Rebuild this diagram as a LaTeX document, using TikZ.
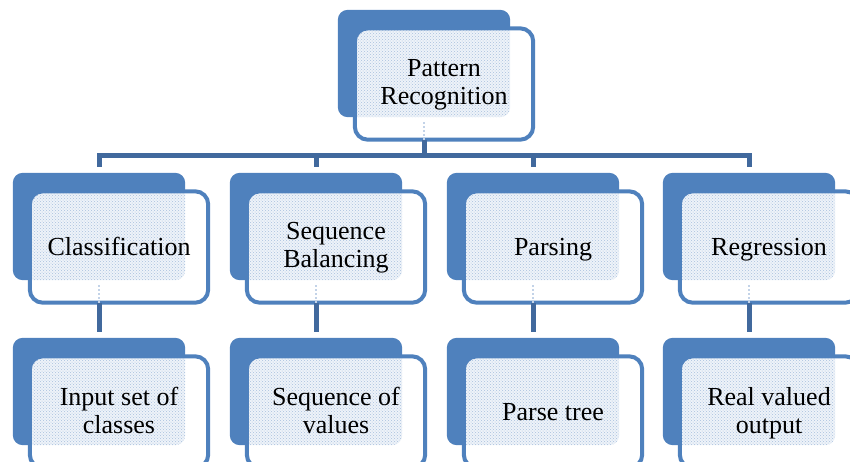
\documentclass[tikz,border=0pt]{standalone}
\usepackage{fontspec}
\setmainfont{Liberation Serif}
\newfontfamily\tnr{Liberation Serif}
\usetikzlibrary{patterns,backgrounds}
\definecolor{boxblue}{HTML}{4F81BD}
\definecolor{lineblue}{HTML}{41699D}
\definecolor{dotblue}{HTML}{A9C0DE}
\definecolor{tintblue}{HTML}{EEF3F9}
\tikzset{
  backshape/.style={rectangle, minimum width=172pt, minimum height=107pt, inner sep=0pt},
  frontshape/.style={rectangle, minimum width=178pt, minimum height=111pt, inner sep=0pt,
    align=center, font=\tnr\fontsize{26}{28}\selectfont,
    execute at begin node=\strut, execute at end node=\strut},
  conn/.style={draw=lineblue, line width=5pt},
}
% #1 x, #2 y of the back box top-left corner, #3 name, #4 text
\newcommand\pbox[4]{%
  \node[backshape] (#3b) at ({#1+86},{#2+53.5}) {};
  \node[frontshape] (#3) at ({#1+106},{#2+74}) {};
  \node[frontshape, draw=none] (#3t) at ([yshift=-2.5pt]#3.center) {#4};
  \begin{pgfonlayer}{background}
    \fill[boxblue, rounded corners=10pt] (#3b.south west) rectangle (#3b.north east);
    \fill[white, rounded corners=13pt] (#3.south west) rectangle (#3.north east);
    \begin{scope}
      \clip[rounded corners=11pt] ([shift={(2pt,2pt)}]#3.south west) rectangle ([shift={(-2pt,-2pt)}]#3.north east);
      \fill[tintblue, rounded corners=10pt] (#3b.south west) rectangle (#3b.north east);
      \fill[pattern=crosshatch dots, pattern color=dotblue, rounded corners=10pt] (#3b.south west) rectangle (#3b.north east);
    \end{scope}
    \draw[boxblue, line width=4pt, rounded corners=13pt] (#3.south west) rectangle (#3.north east);
  \end{pgfonlayer}%
}
\newcommand\pmark[1]{%
  \begin{pgfonlayer}{background}
    \draw[dotblue!70, dotted, line width=2pt] ([yshift=-5pt]#1b.south) -- (#1b.south |- #1.south);
  \end{pgfonlayer}%
}
\begin{document}
\begin{tikzpicture}[x=1pt, y=-1pt]
\useasboundingbox (0,0) rectangle (850,461);
% top
\pbox{338}{10}{pr}{Pattern\\Recognition}
\pmark{pr}
% second level
\pbox{13}{173}{cl}{Classification}
\pbox{230}{173}{sb}{Sequence\\Balancing}
\pbox{447}{173}{pa}{Parsing}
\pbox{663}{173}{re}{Regression}
\pmark{cl}\pmark{sb}\pmark{pa}\pmark{re}
% third level
\pbox{13}{338}{is}{Input set of\\classes}
\pbox{230}{338}{sv}{Sequence of\\values}
\pbox{447}{338}{pt}{Parse tree}
\pbox{663}{338}{rv}{Real valued\\output}
% connectors
\coordinate (busl) at (clb.north |- 0,155);
\coordinate (busr) at (reb.north |- 0,155);
\draw[conn] (prb.south |- pr.south) -- (prb.south |- busl);
\draw[conn] ([yshift=6pt]clb.north) -- (busl) -- (busr) -- ([yshift=6pt]reb.north);
\draw[conn] (sbb.north |- busl) -- ([yshift=6pt]sbb.north);
\draw[conn] (pab.north |- busl) -- ([yshift=6pt]pab.north);
\draw[conn] (clb.south |- cl.south) -- ([yshift=6pt]isb.north);
\draw[conn] (sbb.south |- sb.south) -- ([yshift=6pt]svb.north);
\draw[conn] (pab.south |- pa.south) -- ([yshift=6pt]ptb.north);
\draw[conn] (reb.south |- re.south) -- ([yshift=6pt]rvb.north);
\end{tikzpicture}
\end{document}
